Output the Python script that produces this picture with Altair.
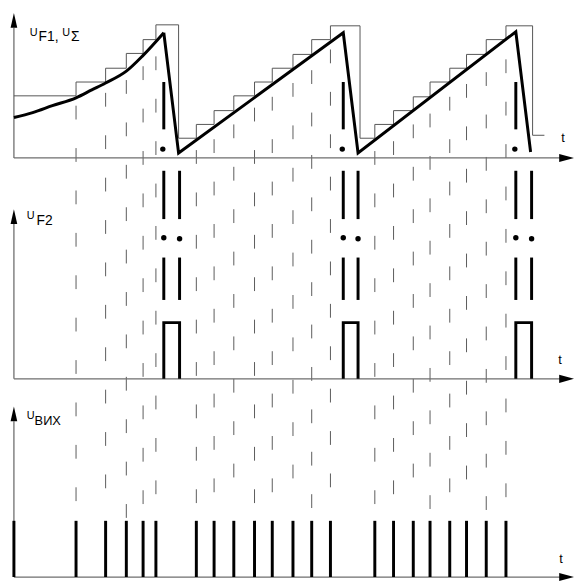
import altair as alt
import pandas as pd

# ---------------- layout of the three traces (picture units) ----------------
BASE = {"F1": 156, "F2": 380, "OUT": 581}     # time axes of the three traces
AXIS_TOP = {"F1": 24, "F2": 223, "OUT": 423}  # where the y-axis arrow head begins
T0, T_ARROW, T_END = 14, 567, 582

# ---------------- data ----------------
# clock pulses (U_вих): times
pulse_t = [14, 77, 107, 128, 145, 158, 199, 217, 237, 258, 276, 297, 316,
           335, 380, 399, 419, 436, 456, 473, 493, 513]
pulse_amp = 57

# dashed sync lines: time, first dash, last dash (picture y)
dash_t = [77, 107, 128, 145, 158, 199, 217, 237, 258, 276, 297, 316, 335,
          380, 399, 419, 436, 456, 473, 493, 513]
dash_first = [103, 90, 77, 63, 53, 148, 137, 122, 105, 94, 80, 67, 46,
              149, 139, 122, 111, 94, 81, 69, 56]
dash_last = [490, 477, 507, 493, 483, 492, 481, 466, 492, 481, 467, 497, 476,
             493, 483, 466, 498, 481, 468, 499, 486]

# staircase U_F1 (step-after): times and levels above the F1 axis
stair_t = [14, 77, 107, 128, 145, 158, 181, 199, 217, 237, 258, 276, 297, 316,
           335, 365, 380, 399, 419, 436, 456, 473, 493, 513, 540, 552]
stair_v = [63, 77, 91, 106, 120, 135, 20, 34, 48, 63, 77, 91, 105, 120,
           134, 20, 34, 48, 62, 77, 91, 105, 120, 134, 23, 23]

# U_Σ: first (exponential-like) rise
curve_t = [14, 33, 53, 77, 93, 107, 128, 145, 166]
curve_v = [41, 46, 53, 61, 69, 76, 88, 104, 127]
# U_Σ: sawtooth after the first reset
saw_t = [166, 181, 348, 363, 523, 538]
saw_v = [127, 5, 127, 5, 128, 6]

# reset intervals (start, end)
reset_a = [166, 348, 523]
reset_b = [182, 363, 539]
f2_amp = 57

# ---------------- tables ----------------
def yv(panel, v):
    return [BASE[panel] - x for x in v]

stair = pd.DataFrame({"t": stair_t, "y": yv("F1", stair_v)})
curve = pd.DataFrame({"t": curve_t, "y": yv("F1", curve_v)})
saw = pd.DataFrame({"t": saw_t, "y": yv("F1", saw_v)})

dashes = pd.DataFrame({"t": dash_t, "y": dash_first,
                       "y2": [d + 14 for d in dash_last]})

out_pulses = pd.DataFrame({"t": pulse_t, "y": [BASE["OUT"] - pulse_amp] * len(pulse_t),
                           "y2": [BASE["OUT"]] * len(pulse_t)})

rows = []
for i, (a, b) in enumerate(zip(reset_a, reset_b)):
    top = BASE["F2"] - f2_amp
    for k, (t, y) in enumerate([(a, BASE["F2"]), (a, top), (b, top), (b, BASE["F2"])]):
        rows.append({"t": t, "y": y, "g": i, "o": k})
f2_pulses = pd.DataFrame(rows)

seg_rows = []
for a, b in zip(reset_a, reset_b):
    seg_rows.append({"t": a, "y": 79, "y2": 127})
    for t in (a, b):
        seg_rows.append({"t": t, "y": 169, "y2": 218})
        seg_rows.append({"t": t, "y": 257, "y2": 300})
segs = pd.DataFrame(seg_rows)

dot_rows = []
for a, b in zip(reset_a, reset_b):
    dot_rows.append({"t": a - 1, "y": 147})
    dot_rows.append({"t": a, "y": 237})
    dot_rows.append({"t": b, "y": 238})
dots = pd.DataFrame(dot_rows)

axes_h = pd.DataFrame({"t": [T0] * 3, "t2": [T_ARROW + 2] * 3,
                       "y": [BASE[p] for p in BASE]})
axes_v = pd.DataFrame({"t": [T0] * 3, "y": [BASE[p] for p in BASE],
                       "y2": [AXIS_TOP[p] for p in BASE]})
arrows_up = pd.DataFrame({"t": [T0] * 3, "y": [AXIS_TOP[p] - 7.5 for p in BASE]})
arrows_right = pd.DataFrame({"t": [(T_ARROW + T_END) / 2] * 3,
                             "y": [BASE[p] for p in BASE]})

labels = pd.DataFrame([
    {"t": 30, "y": 32, "text": "U", "size": 11},
    {"t": 39, "y": 37, "text": "F1,", "size": 14},
    {"t": 63, "y": 32, "text": "U", "size": 11},
    {"t": 72, "y": 37, "text": "Σ", "size": 14},
    {"t": 27, "y": 218, "text": "U", "size": 11},
    {"t": 37, "y": 224, "text": "F2", "size": 14},
    {"t": 27, "y": 421, "text": "U", "size": 11},
    {"t": 35, "y": 427, "text": "ВИХ", "size": 13},
    {"t": 569, "y": 140, "text": "t", "size": 13},
    {"t": 566, "y": 365, "text": "t", "size": 13},
    {"t": 567, "y": 567, "text": "t", "size": 13},
])

# ---------------- scales ----------------
X = alt.Scale(domain=[8, 582], nice=False, zero=False)
Y = alt.Scale(domain=[8, 584], nice=False, zero=False, reverse=True)

def xq(f="t"):
    return alt.X(f"{f}:Q", scale=X, axis=None)

def yq(f="y"):
    return alt.Y(f"{f}:Q", scale=Y, axis=None)

AX = "#6e6e6e"

layers = [
    alt.Chart(dashes).mark_rule(color="#5a5a5a", strokeWidth=1, strokeDash=[14, 29])
    .encode(x=xq(), y=yq(), y2="y2:Q"),
    alt.Chart(axes_h).mark_rule(color=AX, strokeWidth=1.3)
    .encode(x=xq(), x2="t2:Q", y=yq()),
    alt.Chart(axes_v).mark_rule(color=AX, strokeWidth=1.3)
    .encode(x=xq(), y=yq(), y2="y2:Q"),
    alt.Chart(arrows_up).mark_point(shape="M0,-1L0.45,1L-0.45,1Z", size=225,
                                    filled=True, color="black", opacity=1)
    .encode(x=xq(), y=yq()),
    alt.Chart(arrows_right).mark_point(shape="M1,0L-1,-0.55L-1,0.55Z", size=225,
                                       filled=True, color="black", opacity=1)
    .encode(x=xq(), y=yq()),
    alt.Chart(stair).mark_line(color="#555555", strokeWidth=1, interpolate="step-after")
    .encode(x=xq(), y=yq()),
    alt.Chart(curve).mark_line(color="black", strokeWidth=3, interpolate="monotone")
    .encode(x=xq(), y=yq()),
    alt.Chart(saw).mark_line(color="black", strokeWidth=3, strokeJoin="miter")
    .encode(x=xq(), y=yq()),
    alt.Chart(f2_pulses).mark_line(color="black", strokeWidth=3, strokeJoin="miter")
    .encode(x=xq(), y=yq(), detail="g:N", order="o:Q"),
    alt.Chart(out_pulses).mark_rule(color="black", strokeWidth=3)
    .encode(x=xq(), y=yq(), y2="y2:Q"),
    alt.Chart(segs).mark_rule(color="black", strokeWidth=3)
    .encode(x=xq(), y=yq(), y2="y2:Q"),
    alt.Chart(dots).mark_circle(color="black", size=30, opacity=1)
    .encode(x=xq(), y=yq()),
    alt.Chart(labels).mark_text(align="left", baseline="alphabetic",
                                font="Liberation Sans", color="black")
    .encode(x=xq(), y=yq(), text="text:N",
            size=alt.Size("size:Q", scale=None, legend=None)),
]

chart = alt.layer(*layers).properties(
    width=574, height=576, padding=0, autosize=alt.AutoSizeParams(type="none"),
    background="white",
).configure_view(strokeWidth=0)

chart.save("out.html", embed_options={"renderer": "svg", "actions": False})
